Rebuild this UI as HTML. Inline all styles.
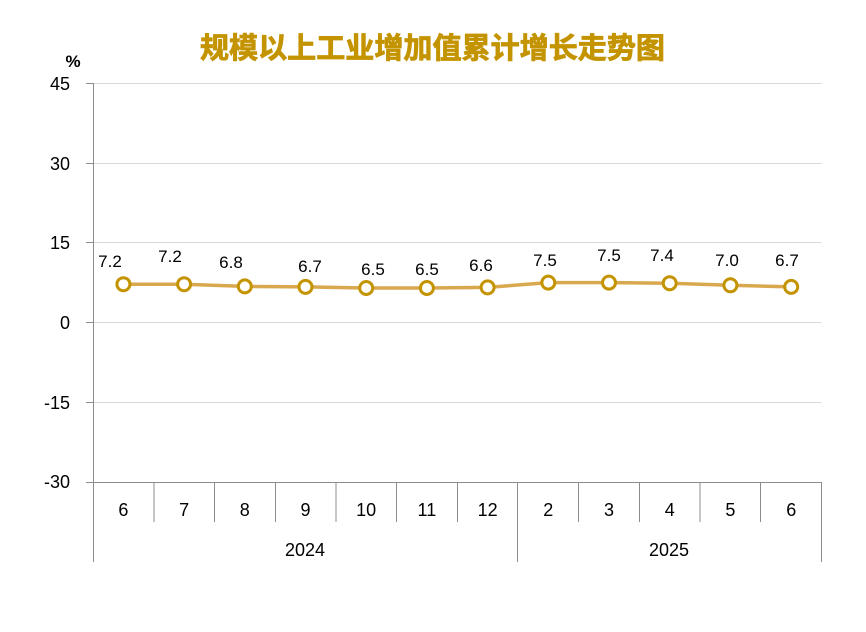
<!DOCTYPE html>
<html><head><meta charset="utf-8"><style>
html,body{margin:0;padding:0;background:#fff;}
svg{display:block;}
</style></head><body>
<svg width="866" height="632" viewBox="0 0 866 632" xmlns="http://www.w3.org/2000/svg">
<rect width="866" height="632" fill="#fff"/>
<text x="200" y="58" textLength="465" lengthAdjust="spacingAndGlyphs" font-family="Noto Sans CJK SC, sans-serif" font-weight="bold" font-size="29" fill="#C49400" stroke="#C49400" stroke-width="0.8">规模以上工业增加值累计增长走势图</text>
<text x="73" y="67" text-anchor="middle" font-family="Liberation Sans, sans-serif" font-weight="bold" font-size="17" fill="#000">%</text>
<g stroke="#d9d9d9" stroke-width="1">
<line x1="93" y1="83.5" x2="821.5" y2="83.5"/>
<line x1="93" y1="163.5" x2="821.5" y2="163.5"/>
<line x1="93" y1="242.5" x2="821.5" y2="242.5"/>
<line x1="93" y1="322.5" x2="821.5" y2="322.5"/>
<line x1="93" y1="402.5" x2="821.5" y2="402.5"/>
</g>
<g stroke="#8c8c8c" stroke-width="1">
<line x1="93.5" y1="83" x2="93.5" y2="562"/>
<line x1="86" y1="83.5" x2="93" y2="83.5"/>
<line x1="86" y1="163.5" x2="93" y2="163.5"/>
<line x1="86" y1="242.5" x2="93" y2="242.5"/>
<line x1="86" y1="322.5" x2="93" y2="322.5"/>
<line x1="86" y1="402.5" x2="93" y2="402.5"/>
<line x1="86" y1="482.5" x2="821.5" y2="482.5"/>
<line x1="154" y1="482" x2="154" y2="522"/>
<line x1="214.5" y1="482" x2="214.5" y2="522"/>
<line x1="275.5" y1="482" x2="275.5" y2="522"/>
<line x1="336" y1="482" x2="336" y2="522"/>
<line x1="396.5" y1="482" x2="396.5" y2="522"/>
<line x1="457.5" y1="482" x2="457.5" y2="522"/>
<line x1="517.5" y1="482" x2="517.5" y2="562"/>
<line x1="578.5" y1="482" x2="578.5" y2="522"/>
<line x1="639.5" y1="482" x2="639.5" y2="522"/>
<line x1="700" y1="482" x2="700" y2="522"/>
<line x1="760.5" y1="482" x2="760.5" y2="522"/>
<line x1="821.5" y1="482" x2="821.5" y2="562"/>
</g>
<g font-family="Liberation Sans, sans-serif" font-size="18" fill="#000" text-anchor="end">
<text x="70" y="90">45</text>
<text x="70" y="170">30</text>
<text x="70" y="249">15</text>
<text x="70" y="329">0</text>
<text x="70" y="409">-15</text>
<text x="70" y="488">-30</text>
</g>
<g font-family="Liberation Sans, sans-serif" font-size="18" fill="#000" text-anchor="middle">
<text x="123.4" y="516">6</text>
<text x="184.1" y="516">7</text>
<text x="244.8" y="516">8</text>
<text x="305.5" y="516">9</text>
<text x="366.2" y="516">10</text>
<text x="426.9" y="516">11</text>
<text x="487.6" y="516">12</text>
<text x="548.3" y="516">2</text>
<text x="609" y="516">3</text>
<text x="669.7" y="516">4</text>
<text x="730.4" y="516">5</text>
<text x="791.2" y="516">6</text>
<text x="305" y="556">2024</text>
<text x="669" y="556">2025</text>
</g>
<polyline fill="none" stroke="#D9A84E" stroke-width="3.5" stroke-linejoin="round" points="123.4,284.2 184.1,284.2 244.8,286.4 305.5,286.9 366.2,288 426.9,288 487.6,287.4 548.3,282.6 609,282.6 669.7,283.2 730.4,285.3 791.2,286.9"/>
<g fill="#fff" stroke="#C49400" stroke-width="3">
<circle cx="123.4" cy="284.2" r="6.5"/>
<circle cx="184.1" cy="284.2" r="6.5"/>
<circle cx="244.8" cy="286.4" r="6.5"/>
<circle cx="305.5" cy="286.9" r="6.5"/>
<circle cx="366.2" cy="288" r="6.5"/>
<circle cx="426.9" cy="288" r="6.5"/>
<circle cx="487.6" cy="287.4" r="6.5"/>
<circle cx="548.3" cy="282.6" r="6.5"/>
<circle cx="609" cy="282.6" r="6.5"/>
<circle cx="669.7" cy="283.2" r="6.5"/>
<circle cx="730.4" cy="285.3" r="6.5"/>
<circle cx="791.2" cy="286.9" r="6.5"/>
</g>
<g font-family="Liberation Sans, sans-serif" font-size="17" fill="#000" text-anchor="middle">
<text x="110" y="267">7.2</text>
<text x="170" y="262">7.2</text>
<text x="231" y="268">6.8</text>
<text x="310" y="272">6.7</text>
<text x="373" y="275">6.5</text>
<text x="427" y="275">6.5</text>
<text x="481" y="271">6.6</text>
<text x="545" y="266">7.5</text>
<text x="609" y="261">7.5</text>
<text x="662" y="261">7.4</text>
<text x="727" y="266">7.0</text>
<text x="787" y="266">6.7</text>
</g>
</svg>
</body></html>
